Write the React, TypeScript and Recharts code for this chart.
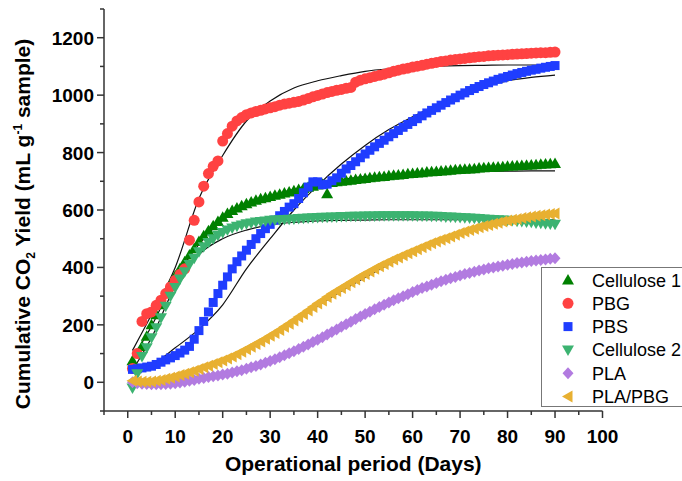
import React from 'react';
import { ComposedChart, Scatter, Line, XAxis, YAxis, Legend } from 'recharts';

const days = [
  1, 2, 3, 4, 5, 6, 7, 8, 9, 10, 11, 12, 13, 14, 15, 16, 17, 18, 19, 20, 21, 22, 23, 24, 25, 26, 27, 28, 29, 30,
  31, 32, 33, 34, 35, 36, 37, 38, 39, 40, 41, 42, 43, 44, 45, 46, 47, 48, 49, 50, 51, 52, 53, 54, 55, 56, 57, 58, 59, 60,
  61, 62, 63, 64, 65, 66, 67, 68, 69, 70, 71, 72, 73, 74, 75, 76, 77, 78, 79, 80, 81, 82, 83, 84, 85, 86, 87, 88, 89, 90,
];

const cellulose1 = [
  75, 100, 125, 160, 200, 235, 270, 310, 340, 370, 395, 420, 443, 465, 490, 510, 528, 545, 560, 575, 588, 598, 607, 615, 622, 628, 634, 639, 643, 647,
  651, 655, 659, 663, 667, 671, 675, 679, 683, 687, 690, 657, 696, 698, 700, 702, 704, 706, 708, 710, 712, 714, 716, 717, 719, 721, 722, 724, 726, 727,
  729, 730, 732, 733, 734, 736, 737, 738, 740, 741, 742, 743, 744, 746, 747, 748, 749, 750, 751, 752, 753, 754, 755, 756, 757, 758, 759, 760, 761, 762,
];
const pbg = [
  48, 100, 212, 239, 245, 268, 286, 309, 332, 355, 376, 395, 495, 564, 628, 683, 727, 752, 771, 840, 866, 892, 910, 922, 932, 938, 943, 947, 952, 956,
  960, 965, 969, 972, 975, 978, 983, 988, 994, 999, 1004, 1009, 1013, 1017, 1020, 1024, 1027, 1045, 1052, 1057, 1061, 1065, 1069, 1073, 1078, 1083, 1087, 1091, 1094, 1098,
  1101, 1104, 1108, 1111, 1114, 1117, 1119, 1122, 1124, 1126, 1128, 1130, 1132, 1134, 1135, 1137, 1138, 1139, 1140, 1141, 1142, 1143, 1144, 1145, 1146, 1147, 1148, 1148, 1149, 1150,
];
const pbs = [
  45, 47, 50, 53, 56, 62, 70, 78, 85, 93, 102, 112, 125, 150, 180, 212, 245, 278, 309, 338, 367, 395, 420, 440, 460, 480, 500, 518, 535, 550,
  565, 580, 595, 610, 622, 640, 660, 680, 698, 698, 688, 690, 702, 712, 728, 743, 755, 768, 782, 795, 808, 820, 832, 843, 855, 866, 877, 888, 898, 908,
  918, 928, 938, 947, 956, 965, 974, 983, 991, 1000, 1008, 1016, 1023, 1030, 1037, 1043, 1049, 1055, 1060, 1065, 1070, 1075, 1079, 1083, 1087, 1090, 1094, 1097, 1100, 1103,
];
const cellulose2 = [
  -20, 30, 90, 120, 155, 190, 225, 265, 300, 330, 360, 385, 410, 432, 455, 472, 487, 500, 512, 522, 530, 537, 543, 548, 552, 555, 558, 560, 562, 564,
  565, 566, 567, 568, 569, 570, 571, 572, 573, 574, 575, 575, 576, 576, 577, 577, 578, 578, 578, 579, 579, 579, 580, 580, 580, 580, 580, 580, 580, 580,
  579, 579, 579, 578, 578, 577, 576, 576, 575, 574, 573, 572, 571, 570, 569, 568, 567, 566, 565, 564, 563, 561, 560, 558, 557, 555, 554, 552, 551, 550,
];
const pla = [
  0, -3, -5, -6, -7, -7, -7, -6, -5, -3, -1, 2, 5, 8, 12, 15, 18, 21, 24, 27, 30, 34, 38, 42, 47, 52, 57, 62, 68, 74,
  80, 87, 94, 101, 108, 116, 124, 132, 140, 148, 157, 166, 175, 184, 193, 202, 211, 220, 229, 238, 246, 254, 262, 270, 278, 286, 293, 300, 307, 314,
  321, 328, 334, 340, 346, 352, 357, 362, 367, 372, 377, 381, 385, 389, 393, 397, 400, 403, 406, 409, 412, 415, 417, 420, 422, 424, 426, 428, 430, 432,
];
const plaPbg = [
  5, 3, 2, 2, 3, 5, 8, 12, 16, 20, 25, 30, 35, 40, 46, 52, 58, 64, 70, 76, 83, 90, 98, 106, 115, 124, 133, 142, 152, 162,
  172, 182, 193, 204, 215, 227, 238, 250, 262, 274, 285, 297, 308, 318, 328, 338, 348, 358, 368, 377, 386, 395, 404, 412, 420, 428, 435, 442, 449, 456,
  463, 470, 477, 484, 490, 496, 502, 508, 514, 520, 525, 530, 535, 540, 544, 548, 552, 556, 560, 563, 566, 569, 572, 575, 577, 580, 582, 584, 586, 588,
];

const fitDays = [1, 5, 10, 15, 20, 25, 30, 35, 40, 45, 50, 55, 60, 65, 70, 75, 80, 85, 90];
const fitCellulose1 = [83, 195, 360, 480, 565, 615, 648, 672, 693, 706, 716, 722, 727, 730, 733, 734, 735, 736, 736];
const fitPbg = [111, 235, 400, 640, 790, 910, 980, 1025, 1050, 1068, 1083, 1092, 1098, 1101, 1103, 1104, 1105, 1105, 1105];
const fitPbs = [36, 60, 120, 185, 270, 395, 500, 600, 685, 760, 825, 880, 925, 965, 1000, 1030, 1050, 1062, 1070];
const fitCellulose2 = [42, 155, 335, 445, 500, 530, 548, 557, 562, 564, 565, 566, 566, 566, 566, 566, 566, 566, 566];
const fitPla = [0, 2, 5, 14, 30, 50, 75, 108, 145, 190, 235, 277, 315, 347, 372, 392, 408, 420, 430];
const fitPlaPbg = [0, 8, 20, 44, 75, 115, 160, 212, 265, 318, 365, 410, 450, 485, 515, 538, 556, 570, 580];

const xTicks = [-5, 0, 5, 10, 15, 20, 25, 30, 35, 40, 45, 50, 55, 60, 65, 70, 75, 80, 85, 90, 95, 100];
const yTicks = [-100, 0, 100, 200, 300, 400, 500, 600, 700, 800, 900, 1000, 1100, 1200, 1300];

const AXIS = '#333';
const FONT = 'Liberation Sans, Arial, sans-serif';

function Marker({ kind, cx, cy, fill }: { kind: string; cx: number; cy: number; fill: string }) {
  if (kind === 'circle') return <circle cx={cx} cy={cy} r={5.5} fill={fill} />;
  if (kind === 'square') return <rect x={cx - 4.5} y={cy - 4.5} width={9} height={9} fill={fill} />;
  let pts = '';
  if (kind === 'up') pts = `${cx},${cy - 6} ${cx - 6},${cy + 4.5} ${cx + 6},${cy + 4.5}`;
  if (kind === 'down') pts = `${cx - 6},${cy - 4.5} ${cx + 6},${cy - 4.5} ${cx},${cy + 6}`;
  if (kind === 'left') pts = `${cx - 6},${cy} ${cx + 4.5},${cy - 6} ${cx + 4.5},${cy + 6}`;
  if (kind === 'diamond') pts = `${cx},${cy - 6} ${cx + 5.5},${cy} ${cx},${cy + 6} ${cx - 5.5},${cy}`;
  return <polygon points={pts} fill={fill} />;
}

const series = [
  { name: 'Cellulose 1', color: '#008000', kind: 'up', values: cellulose1, fit: fitCellulose1 },
  { name: 'PBG', color: '#FF4242', kind: 'circle', values: pbg, fit: fitPbg },
  { name: 'PBS', color: '#1F3DFF', kind: 'square', values: pbs, fit: fitPbs },
  { name: 'Cellulose 2', color: '#3CB371', kind: 'down', values: cellulose2, fit: fitCellulose2 },
  { name: 'PLA', color: '#B27BE0', kind: 'diamond', values: pla, fit: fitPla },
  { name: 'PLA/PBG', color: '#E8B031', kind: 'left', values: plaPbg, fit: fitPlaPbg },
];

function XTick(props: any) {
  const { x, y, payload } = props;
  const v = payload.value;
  const major = v % 10 === 0 && v >= 0;
  return (
    <g>
      <line x1={x} x2={x} y1={y} y2={y + (major ? 7 : 4)} stroke={AXIS} strokeWidth={1.5} />
      {major && (
        <text x={x} y={y + 32} textAnchor="middle" fontSize={19} fontWeight="bold" fill="#000" fontFamily={FONT}>
          {v}
        </text>
      )}
    </g>
  );
}

function YTick(props: any) {
  const { x, y, payload } = props;
  const v = payload.value;
  const major = v % 200 === 0 && v >= 0;
  return (
    <g>
      <line x1={x} x2={x - (major ? 7 : 4)} y1={y} y2={y} stroke={AXIS} strokeWidth={1.5} />
      {major && (
        <text x={x - 10} y={y + 7} textAnchor="end" fontSize={19} fontWeight="bold" fill="#000" fontFamily={FONT}>
          {v}
        </text>
      )}
    </g>
  );
}

function LegendBox() {
  return (
    <div style={{ width: 160, height: 140, border: '1px solid #777', background: '#fff', boxSizing: 'border-box' }}>
      <svg width={160} height={140}>
        {series.map((s, i) => (
          <g key={s.name}>
            <Marker kind={s.kind} cx={26} cy={12 + i * 23.3} fill={s.color} />
            <text x={50} y={12 + i * 23.3 + 6.5} fontSize={18} fill="#000" fontFamily={FONT}>
              {s.name}
            </text>
          </g>
        ))}
      </svg>
    </div>
  );
}

function YTitle() {
  return (
    <text transform="translate(30, 224) rotate(-90)" textAnchor="middle" fontSize={21} fontWeight="bold" fill="#000" fontFamily={FONT}>
      Cumulative CO
      <tspan fontSize={12} dy={5}>2</tspan>
      <tspan dy={-5}> Yield (mL g</tspan>
      <tspan fontSize={12} dy={-8}>-1</tspan>
      <tspan dy={8}> sample)</tspan>
    </text>
  );
}

export default function App() {
  return (
    <div style={{ position: 'absolute', left: 0, top: 0, width: 682, height: 481, background: '#fff' }}>
      <ComposedChart width={682} height={481} margin={{ top: 9, right: 79.5, bottom: 0, left: 0 }}>
        <XAxis
          type="number"
          dataKey="x"
          domain={[-5, 100]}
          ticks={xTicks}
          interval={0}
          tickSize={0}
          tickMargin={0}
          tickLine={false}
          tick={<XTick />}
          height={70}
          allowDataOverflow
          axisLine={{ stroke: AXIS, strokeWidth: 1.5 }}
          label={{
            value: 'Operational period (Days)',
            position: 'insideBottom',
            offset: 10,
            fontSize: 21,
            fontWeight: 'bold',
            fill: '#000',
            fontFamily: FONT,
          }}
        />
        <YAxis
          type="number"
          dataKey="y"
          domain={[-100, 1300]}
          ticks={yTicks}
          interval={0}
          tickSize={0}
          tickMargin={0}
          tickLine={false}
          tick={<YTick />}
          width={104}
          allowDataOverflow
          axisLine={{ stroke: AXIS, strokeWidth: 1.5 }}
          label={{ content: () => <YTitle /> }}
        />
        {series.map((s) => (
          <Scatter
            key={s.name}
            name={s.name}
            data={days.map((d, i) => ({ x: d, y: s.values[i] }))}
            fill={s.color}
            isAnimationActive={false}
            shape={(p: any) => <Marker kind={s.kind} cx={p.cx} cy={p.cy} fill={s.color} />}
          />
        ))}
        {series.map((s) => (
          <Line
            key={s.name + '-fit'}
            data={fitDays.map((d, i) => ({ x: d, y: s.fit[i] }))}
            dataKey="y"
            type="monotone"
            stroke="#111"
            strokeWidth={1.2}
            dot={false}
            activeDot={false}
            legendType="none"
            isAnimationActive={false}
          />
        ))}
        <Legend
          layout="vertical"
          align="center"
          verticalAlign="middle"
          content={() => <LegendBox />}
          wrapperStyle={{ position: 'absolute', left: 541, top: 267, width: 160, height: 140 }}
        />
      </ComposedChart>
    </div>
  );
}
